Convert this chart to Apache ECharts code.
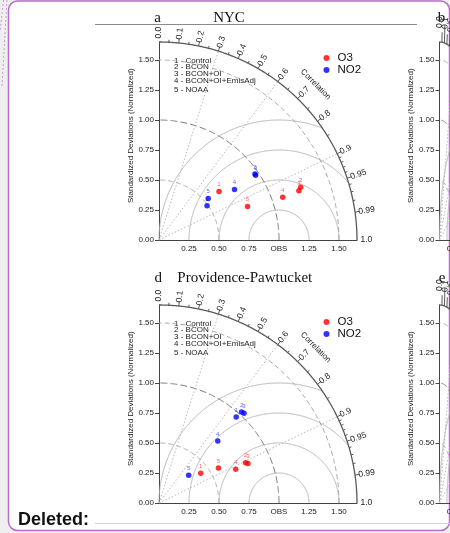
<!DOCTYPE html>
<html>
<head>
<meta charset="utf-8">
<script src="https://cdn.jsdelivr.net/npm/echarts@6/dist/echarts.min.js"></script>
<style>
  html, body { margin: 0; padding: 0; background: #efefef; }
  #chart { width: 450px; height: 533px; }
</style>
</head>
<body>
<div id="chart"></div>
<script>
// Model runs (numbered in the diagrams)
const modelIds = ['1', '2', '3', '4', '5'];
const modelNames = ['Control', 'BCON', 'BCON+OI', 'BCON+OI+EmisAdj', 'NOAA'];

// NYC: normalized standard deviation and correlation per model run
const nycO3Std = [0.643, 1.260, 1.236, 1.091, 0.789];
const nycO3Corr = [0.778, 0.937, 0.943, 0.945, 0.935];
const nycNO2Std = [0.491, 0.971, 0.969, 0.757, 0.537];
const nycNO2Corr = [0.815, 0.824, 0.831, 0.831, 0.764];

// Providence-Pawtucket
const provO3Std = [0.427, 0.795, 0.811, 0.699, 0.575];
const provO3Corr = [0.814, 0.907, 0.914, 0.915, 0.861];
const provNO2Std = [0.963, 1.024, 1.030, 0.712, 0.339];
const provNO2Corr = [0.668, 0.672, 0.688, 0.688, 0.729];

// Axis ticks and correlation scale
const stdTicks = [0, 0.25, 0.5, 0.75, 1.0, 1.25, 1.5];
const xTicks = [0.25, 0.5, 0.75, 1.0, 1.25, 1.5];
const corrLabelValues = [0, 0.1, 0.2, 0.3, 0.4, 0.5, 0.6, 0.7, 0.8, 0.9, 0.95, 0.99, 1.0];
const corrLabelTexts = ['0.0', '0.1', '0.2', '0.3', '0.4', '0.5', '0.6', '0.7', '0.8', '0.9', '0.95', '0.99', '1.0'];
const corrMajorTicks = [0.1, 0.2, 0.3, 0.4, 0.5, 0.6, 0.7, 0.8, 0.9, 0.95, 0.99];
const corrMinorTicks = [0.05, 0.15, 0.25, 0.35, 0.45, 0.55, 0.65, 0.75, 0.85, 0.91, 0.92, 0.93, 0.94, 0.96, 0.97, 0.98];
const corrRays = [0.3, 0.6, 0.9];
const rmsRadii = [0.25, 0.5, 0.75, 1.0];
const stdArcs = [0.5, 1.0, 1.5];
const RMAX = 1.65;

const SANS = '"Liberation Sans", Arial, sans-serif';
const SERIF = '"Liberation Serif", "Times New Roman", serif';
const RED = '#ff0000';
const BLUE = '#0000ff';

// Panel placement: origin of each diagram in pixels, plus grid size
const SIZE = 198;
const panels = [
  { ox: 159, oy: 240 },   // a  NYC
  { ox: 439.5, oy: 240 }, // b
  { ox: 159, oy: 503 },   // d  Providence-Pawtucket
  { ox: 439.5, oy: 503 }  // e
];

function toXY(stds, corrs) {
  return stds.map((s, i) => [s * corrs[i], s * Math.sqrt(1 - corrs[i] * corrs[i]), modelIds[i]]);
}

// Draws the Taylor-diagram furniture in data space of the grid
function renderFrame(params, api) {
  const P = (x, y) => api.coord([x, y]);
  const o = P(0, 0);
  const k = P(1, 0)[0] - o[0];
  const polar = (r, c) => P(r * c, r * Math.sqrt(Math.max(0, 1 - c * c)));
  const kids = [];

  // centred RMS difference circles around the reference point
  rmsRadii.forEach(rho => {
    const pts = [];
    for (let i = 0; i <= 720; i++) {
      const phi = Math.PI * i / 720;
      const x = 1 + rho * Math.cos(phi), y = rho * Math.sin(phi);
      if (x >= 0 && x * x + y * y <= RMAX * RMAX) pts.push(P(x, y));
    }
    kids.push({ type: 'polyline', shape: { points: pts },
      style: { stroke: '#b4b4b4', lineWidth: 1, fill: null } });
  });

  // standard deviation arcs (dashed)
  stdArcs.forEach(r => {
    const pts = [];
    for (let i = 0; i <= 180; i++) {
      const t = Math.PI / 2 * i / 180;
      pts.push(P(r * Math.cos(t), r * Math.sin(t)));
    }
    kids.push({ type: 'polyline', shape: { points: pts },
      style: { stroke: r === 1.0 ? '#7a7a7a' : '#a8a8a8', lineWidth: 1, fill: null,
               lineDash: r === 1.0 ? [7, 3] : [5, 3] } });
  });

  // correlation rays (dotted)
  corrRays.forEach(c => {
    const e = polar(RMAX, c);
    kids.push({ type: 'line', shape: { x1: o[0], y1: o[1], x2: e[0], y2: e[1] },
      style: { stroke: '#b8b8b8', lineWidth: 1, lineDash: [1.5, 2] } });
  });

  // outer correlation arc
  const outer = [];
  for (let i = 0; i <= 360; i++) {
    const t = Math.PI / 2 * i / 360;
    outer.push(P(RMAX * Math.cos(t), RMAX * Math.sin(t)));
  }
  kids.push({ type: 'polyline', shape: { points: outer },
    style: { stroke: '#5a5a5a', lineWidth: 1.3, fill: null } });

  // correlation ticks
  corrMajorTicks.forEach(c => {
    const a = polar(RMAX, c), b = polar(RMAX + 4.5 / k, c);
    kids.push({ type: 'line', shape: { x1: a[0], y1: a[1], x2: b[0], y2: b[1] },
      style: { stroke: '#5a5a5a', lineWidth: 1 } });
  });
  corrMinorTicks.forEach(c => {
    const a = polar(RMAX, c), b = polar(RMAX + 2.5 / k, c);
    kids.push({ type: 'line', shape: { x1: a[0], y1: a[1], x2: b[0], y2: b[1] },
      style: { stroke: '#5a5a5a', lineWidth: 1 } });
  });

  // correlation labels, written outward along each ray
  corrLabelValues.forEach((c, i) => {
    const p = polar(RMAX + 3.5 / k, c);
    kids.push({ type: 'text', x: p[0], y: p[1], rotation: Math.acos(c),
      style: { text: corrLabelTexts[i], fill: '#222', font: '8.5px ' + SANS,
               align: 'left', verticalAlign: 'middle' } });
  });

  // "Correlation" caption following the arc
  const th = 44.8 * Math.PI / 180;
  const cp = polar(1.84, Math.cos(th));
  kids.push({ type: 'text', x: cp[0], y: cp[1], rotation: -(Math.PI / 2 - th),
    style: { text: 'Correlation', fill: '#222', font: '8px ' + SANS,
             align: 'center', verticalAlign: 'middle' } });

  return { type: 'group', children: kids, silent: true };
}

const grids = [], xAxes = [], yAxes = [], series = [];
panels.forEach((p, gi) => {
  grids.push({ left: p.ox, top: p.oy - SIZE, width: SIZE, height: SIZE });
  xAxes.push({
    gridIndex: gi, type: 'value', min: 0, max: RMAX,
    axisLine: { show: true, lineStyle: { color: '#444', width: 1 } },
    axisTick: { show: false }, splitLine: { show: false },
    axisLabel: { customValues: xTicks, margin: 5, fontSize: 8, color: '#222', fontFamily: SANS,
                 formatter: v => (Math.abs(v - 1) < 1e-9 ? 'OBS' : v.toFixed(2)) }
  });
  yAxes.push({
    gridIndex: gi, type: 'value', min: 0, max: RMAX,
    axisLine: { show: true, lineStyle: { color: '#444', width: 1 } },
    axisTick: { show: true, customValues: stdTicks, length: 4, lineStyle: { color: '#444' } },
    splitLine: { show: false },
    axisLabel: { customValues: stdTicks, margin: 5, fontSize: 8, color: '#222', fontFamily: SANS,
                 formatter: v => v.toFixed(2) }
  });
  series.push({
    type: 'custom', xAxisIndex: gi, yAxisIndex: gi, data: [[0, 0]],
    renderItem: renderFrame, clip: false, silent: true, z: 1
  });
});

// Points: number labels sit underneath the dots, as in the plotted figure
function addPoints(gi, name, color, labelColor, pts) {
  series.push({
    type: 'scatter', xAxisIndex: gi, yAxisIndex: gi, data: pts, z: 2, silent: true,
    symbol: 'circle', symbolSize: 1, itemStyle: { color: 'rgba(0,0,0,0)' },
    label: { show: true, position: 'top', distance: 3.5, fontSize: 6, fontFamily: SANS,
             color: labelColor, formatter: q => q.value[2] },
    labelLayout: { hideOverlap: false }
  });
  series.push({
    type: 'scatter', name: name, xAxisIndex: gi, yAxisIndex: gi, data: pts, z: 3, silent: true,
    symbol: 'circle', symbolSize: 5.5, itemStyle: { color: color }
  });
}
addPoints(0, 'O3', RED, '#ff3a3a', toXY(nycO3Std, nycO3Corr));
addPoints(0, 'NO2', BLUE, '#3a3aff', toXY(nycNO2Std, nycNO2Corr));
addPoints(2, 'O3', RED, '#ff3a3a', toXY(provO3Std, provO3Corr));
addPoints(2, 'NO2', BLUE, '#3a3aff', toXY(provNO2Std, provNO2Corr));

function speciesLegend(top) {
  return {
    left: 323.5, top: top, padding: 0, orient: 'vertical', icon: 'circle',
    itemWidth: 6, itemHeight: 6, itemGap: 0, selectedMode: false,
    data: ['O3', 'NO2'],
    textStyle: { fontSize: 11.5, lineHeight: 9, color: '#111', fontFamily: SANS, padding: [0, 0, 0, 3] }
  };
}

// Page furniture, panel titles, run key and axis captions
const graphic = [
  { type: 'rect', z: -10, shape: { x: 8.5, y: 1, width: 441, height: 529.5, r: 9 },
    style: { fill: '#ffffff', stroke: '#b56fcb', lineWidth: 1.5 } },
  { type: 'line', z: -9, shape: { x1: 7, y1: 0, x2: 2, y2: 86 },
    style: { stroke: '#c99bd8', lineWidth: 1, lineDash: [2, 2] } },
  { type: 'line', z: -9, shape: { x1: 3.5, y1: 0, x2: 0, y2: 32 },
    style: { stroke: '#c99bd8', lineWidth: 1, lineDash: [2, 2] } },
  { type: 'line', shape: { x1: 95, y1: 24.5, x2: 417, y2: 24.5 },
    style: { stroke: '#8a8a8a', lineWidth: 1 } },
  { type: 'line', shape: { x1: 95, y1: 523.5, x2: 450, y2: 523.5 },
    style: { stroke: '#d2d2d2', lineWidth: 1 } },
  { type: 'text', x: 18, y: 520, style: { text: 'Deleted:', font: 'bold 18px ' + SANS, fill: '#111',
    align: 'left', verticalAlign: 'middle' } },
  { type: 'text', x: 157.5, y: 18.5, style: { text: 'a', font: '15px ' + SERIF, fill: '#111', align: 'center', verticalAlign: 'middle' } },
  { type: 'text', x: 229, y: 18.5, style: { text: 'NYC', font: '15px ' + SERIF, fill: '#111', align: 'center', verticalAlign: 'middle' } },
  { type: 'text', x: 441.5, y: 18.5, style: { text: 'b', font: '15px ' + SERIF, fill: '#111', align: 'center', verticalAlign: 'middle' } },
  { type: 'text', x: 158.3, y: 278.3, style: { text: 'd', font: '15px ' + SERIF, fill: '#111', align: 'center', verticalAlign: 'middle' } },
  { type: 'text', x: 177.3, y: 278.3, style: { text: 'Providence-Pawtucket', font: '15px ' + SERIF, fill: '#111', align: 'left', verticalAlign: 'middle' } },
  { type: 'text', x: 442, y: 278.3, style: { text: 'e', font: '15px ' + SERIF, fill: '#111', align: 'center', verticalAlign: 'middle' } }
];
panels.forEach(p => {
  graphic.push({ type: 'text', x: p.ox - 28.3, y: p.oy - 104.3, rotation: Math.PI / 2,
    style: { text: 'Standardized Deviations (Normalized)', font: '8px ' + SANS, fill: '#222',
             align: 'center', verticalAlign: 'middle' } });
});
[0, 2].forEach(gi => {
  const p = panels[gi];
  const offs = [-179.7, -173, -166.3, -159.3, -150.5];
  modelNames.forEach((m, i) => {
    graphic.push({ type: 'text', x: 174, y: p.oy + offs[i],
      style: { text: modelIds[i] + ' - ' + m, font: '8px ' + SANS, fill: '#222',
               align: 'left', verticalAlign: 'middle' } });
  });
});

const chart = echarts.init(document.getElementById('chart'), null, { renderer: 'canvas' });
chart.setOption({
  backgroundColor: '#efefef',
  animation: false,
  grid: grids,
  xAxis: xAxes,
  yAxis: yAxes,
  legend: [speciesLegend(52), speciesLegend(316)],
  graphic: graphic,
  series: series
});
</script>
</body>
</html>
